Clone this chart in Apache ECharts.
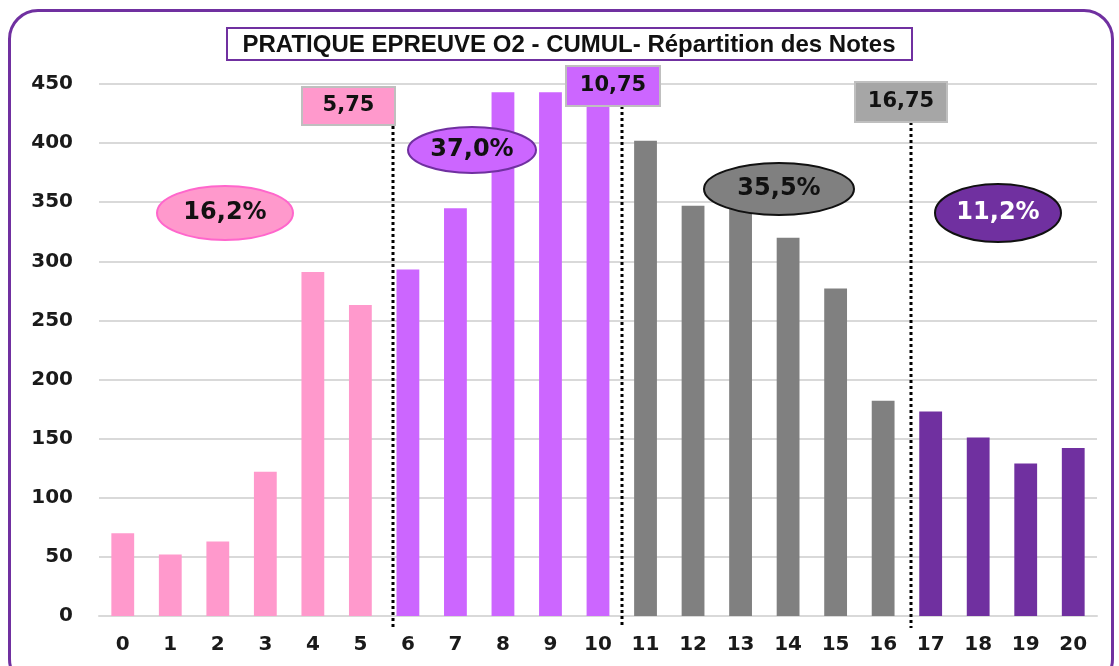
<!DOCTYPE html>
<html>
<head>
<meta charset="utf-8">
<script src="https://cdn.jsdelivr.net/npm/echarts@6/dist/echarts.min.js"></script>
<style>
  html, body { margin: 0; padding: 0; background: #fff; overflow: hidden; }
  #wrap { position: relative; width: 1119px; height: 666px; overflow: hidden; }
  #frame {
    position: absolute; left: 8px; top: 9px; width: 1106px; height: 680px;
    border: 3px solid #7030A0; border-radius: 30px; box-sizing: border-box;
  }
  #chart { position: absolute; left: 0; top: 0; width: 1119px; height: 666px; }
</style>
</head>
<body>
<div id="wrap">
  <div id="frame"></div>
  <div id="chart"></div>
</div>
<script>
/* notes 0..20 et effectifs */
const GRADES = ['0','1','2','3','4','5','6','7','8','9','10','11','12','13','14','15','16','17','18','19','20']
const COUNTS = [70, 52, 63, 122, 291, 263, 293, 345, 443, 443, 440, 402, 347, 350, 320, 277, 182, 173, 151, 129, 142]

/* groupes de couleurs : derniere note de chaque groupe */
const GROUP_LAST   = [5, 10, 16, 20]
const GROUP_COLORS = ['#FF99CC', '#CC66FF', '#808080', '#7030A0']
const GROUP_SHARES = ['16,2%', '37,0%', '35,5%', '11,2%']

/* seuils (position sur l'axe des notes) */
const CUT_POS    = [5.68, 10.5, 16.58]
const CUT_LABELS = ['5,75', '10,75', '16,75']

const Y_MIN = 0, Y_MAX = 450, Y_STEP = 50

const TITLE = 'PRATIQUE EPREUVE O2 - CUMUL- Répartition des Notes'
const AXIS_FONT = '"DejaVu Sans", Verdana, sans-serif'

function groupOf(i) {
  return GROUP_LAST.findIndex(last => i <= last)
}

const chart = echarts.init(document.getElementById('chart'))

chart.setOption({
  animation: false,
  backgroundColor: 'transparent',
  grid: { left: 99, right: 22, top: 84, bottom: 50, containLabel: false },
  xAxis: {
    type: 'category',
    data: GRADES,
    axisTick: { show: false },
    axisLine: { lineStyle: { color: '#D9D9D9', width: 2 } },
    axisLabel: { color: '#1a1a1a', fontSize: 20, fontWeight: 'bold', fontFamily: AXIS_FONT, margin: 19 },
  },
  yAxis: {
    type: 'value',
    min: Y_MIN, max: Y_MAX, interval: Y_STEP,
    axisLine: { show: false },
    axisTick: { show: false },
    splitLine: { lineStyle: { color: '#D9D9D9', width: 2 } },
    axisLabel: { color: '#1a1a1a', fontSize: 20, fontWeight: 'bold', fontFamily: AXIS_FONT, margin: 26 },
  },
  series: [{
    type: 'bar',
    barWidth: '48%',
    data: COUNTS.map((v, i) => ({ value: v, itemStyle: { color: GROUP_COLORS[groupOf(i)] } })),
  }],
})

/* conversion d'une position fractionnaire de note en pixel */
function xAt(pos) {
  const i = Math.floor(pos)
  const a = chart.convertToPixel({ xAxisIndex: 0 }, i)
  const b = chart.convertToPixel({ xAxisIndex: 0 }, i + 1)
  return a + (pos - i) * (b - a)
}

const BOX_FONT = { fontSize: 21, fontWeight: 'bold', fontFamily: AXIS_FONT, fill: '#111', align: 'center', verticalAlign: 'middle' }

// boites des seuils
const boxes = [
  { x: 302, y: 87, w: 93, h: 38, fill: GROUP_COLORS[0] },
  { x: 566, y: 66, w: 94, h: 40, fill: GROUP_COLORS[1] },
  { x: 855, y: 82, w: 92, h: 40, fill: '#A6A6A6' },
]
const cutTops = [90, 106, 122]

// ellipses des pourcentages
const ellipses = [
  { cx: 225, cy: 213, rx: 68, ry: 27, stroke: '#FF66CC', text: '#111' },
  { cx: 472, cy: 150, rx: 64, ry: 23, stroke: '#7030A0', text: '#111' },
  { cx: 779, cy: 189, rx: 75, ry: 26, stroke: '#111', text: '#111' },
  { cx: 998, cy: 213, rx: 63, ry: 29, stroke: '#111', text: '#fff' },
]

const graphic = []

CUT_POS.forEach((p, k) => {
  const x = Math.round(xAt(p))
  graphic.push({
    type: 'line', z: 50,
    shape: { x1: x, y1: cutTops[k], x2: x, y2: 628 },
    style: { stroke: '#000', lineWidth: 3, lineDash: [3, 3] },
  })
  const b = boxes[k]
  graphic.push({
    type: 'rect', z: 60,
    shape: { x: b.x, y: b.y, width: b.w, height: b.h },
    style: { fill: b.fill, stroke: '#BFBFBF', lineWidth: 2 },
  })
  graphic.push({
    type: 'text', z: 61,
    x: b.x + b.w / 2, y: b.y + b.h / 2,
    style: Object.assign({ text: CUT_LABELS[k] }, BOX_FONT),
  })
})

ellipses.forEach((e, k) => {
  graphic.push({
    type: 'ellipse', z: 60,
    shape: { cx: e.cx, cy: e.cy, rx: e.rx, ry: e.ry },
    style: { fill: GROUP_COLORS[k], stroke: e.stroke, lineWidth: 2 },
  })
  graphic.push({
    type: 'text', z: 61,
    x: e.cx, y: e.cy,
    style: {
      text: GROUP_SHARES[k], fill: e.text, fontSize: 24, fontWeight: 'bold',
      fontFamily: AXIS_FONT, align: 'center', verticalAlign: 'middle',
    },
  })
})

// titre encadre
graphic.push({
  type: 'rect', z: 60,
  shape: { x: 227, y: 28, width: 685, height: 32 },
  style: { fill: '#fff', stroke: '#7030A0', lineWidth: 2 },
})
graphic.push({
  type: 'text', z: 61,
  x: 569, y: 45,
  style: {
    text: TITLE, fill: '#111', fontSize: 24, fontWeight: 'bold',
    fontFamily: '"Liberation Sans Narrow", "Liberation Sans", Arial, sans-serif',
    align: 'center', verticalAlign: 'middle',
  },
})

chart.setOption({ graphic })
</script>
</body>
</html>
